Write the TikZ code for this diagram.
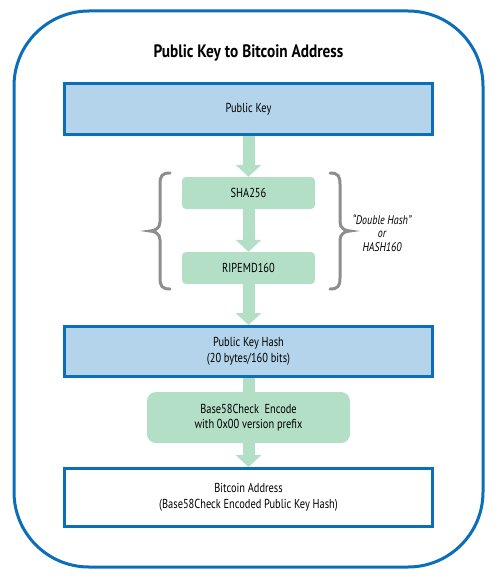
\documentclass[tikz,border=0pt]{standalone}
\usepackage{fontspec}
\setsansfont{PT Sans}[FakeStretch=0.8]
\newfontfamily\titlefont{PT Sans}[FakeStretch=0.85]
\usetikzlibrary{arrows.meta,positioning,backgrounds}
\definecolor{keyblue}{HTML}{0A6EB9}
\definecolor{keyfill}{HTML}{B3D4EA}
\definecolor{hashgreen}{HTML}{B3DFC7}
\definecolor{bracegray}{HTML}{8E8E8E}

\begin{document}
\begin{tikzpicture}[x=1pt, y=-1pt,
    font=\sffamily\fontsize{13}{15.5}\selectfont,
    keybox/.style={rectangle, draw=keyblue, line width=3pt, minimum width=368pt,
      minimum height=51pt, align=center, inner sep=0pt},
    hashbox/.style={rectangle, fill=hashgreen, rounded corners=4pt,
      minimum width=133pt, minimum height=32pt, align=center, inner sep=0pt},
    flow/.style={hashgreen, line width=12pt, -{Triangle[width=25pt,length=12pt]}},
    bracket/.style={bracegray, line width=3pt, line cap=round}]
  \useasboundingbox (0,0) rectangle (502,578);
  \draw[keyblue, line width=3pt, rounded corners=75pt] (14,11) rectangle (483,567);

  \node[font=\titlefont\bfseries\fontsize{18}{21}\selectfont] (title) at (248.5,53)
    {Public Key to Bitcoin Address};
  \node[keybox, fill=keyfill] (pk) at (248.5,109) {Public Key};
  \node[hashbox] (sha) at (248.5,193) {SHA256};
  \node[hashbox] (ripemd) at (248.5,268) {RIPEMD160};
  \node[keybox, fill=keyfill, minimum height=50pt] (pkh) at (248.5,351.5)
    {Public Key Hash\\(20 bytes/160 bits)};
  \node[hashbox, rounded corners=9pt, minimum width=203pt, minimum height=51pt] (enc)
    at (248.5,417.5) {Base58Check\ \ Encode\\with 0x00 version prefix};
  \node[keybox, fill=white, minimum height=58pt] (addr) at (248.5,497.5)
    {Bitcoin Address\\(Base58Check Encoded Public Key Hash)};
  \node[align=center, font=\sffamily\itshape\fontsize{12.5}{13.5}\selectfont] (dbl)
    at (382,233) {“Double Hash”\\or\\HASH160};

  % braces round the double hash
  \draw[bracket] (170,173) .. controls (162,173) and (160,176) .. (160,184) -- (160,222)
    .. controls (160,228) and (155,231) .. (150,231)
    .. controls (155,231) and (160,234) .. (160,240) -- (160,278)
    .. controls (160,286) and (162,289) .. (170,289);
  \draw[bracket] (330,173) .. controls (338,173) and (340,176) .. (340,184) -- (340,222)
    .. controls (340,228) and (345,231) .. (350,231)
    .. controls (345,231) and (340,234) .. (340,240) -- (340,278)
    .. controls (340,286) and (338,289) .. (330,289);

  \begin{scope}[on background layer]
    \draw[flow] (pk) -- (sha);
    \draw[flow] (sha) -- (ripemd);
    \draw[flow] (ripemd) -- (pkh);
    \draw[hashgreen, line width=12pt] (pkh) -- (enc);
    \draw[flow] (enc) -- (addr);
  \end{scope}
\end{tikzpicture}
\end{document}
